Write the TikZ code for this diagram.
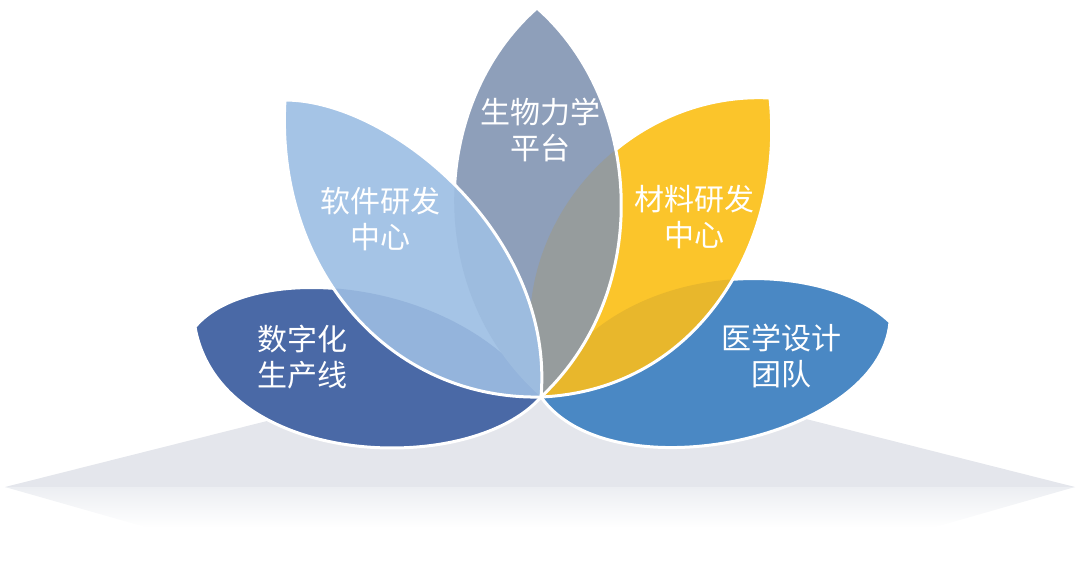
\documentclass[tikz,border=0pt]{standalone}
\usepackage{fontspec}
\newfontfamily\cjk{Noto Sans CJK SC}
\definecolor{darkc}{HTML}{4A69A6}
\definecolor{rbluec}{HTML}{4A88C4}
\definecolor{yellowc}{HTML}{FBC52B}
\definecolor{yellowover}{HTML}{E8B72C}
\definecolor{centerc}{HTML}{8E9FBA}
\definecolor{centerover}{HTML}{969C9D}
\definecolor{lbluec}{HTML}{A5C4E6}
\definecolor{lbover}{HTML}{94B4DC}
\definecolor{lbovercenter}{HTML}{9DBCDF}
\definecolor{shadowc}{HTML}{E4E6EC}
\definecolor{shadowlow}{HTML}{ECEEF2}
\newcommand\PetalDark[1]{\path[#1] (541,397) .. controls (460,275) and (250,260) .. (195,327) .. controls (220,468) and (470,478) .. (541,397) -- cycle;}
\newcommand\PetalRBlue[1]{\path[#1] (541,397) .. controls (610,255) and (820,255) .. (890,322) .. controls (880,440) and (610,495) .. (541,397) -- cycle;}
\newcommand\PetalYellow[1]{\path[#1] (541,397) .. controls (490,240) and (620,90) .. (770,98) .. controls (785,240) and (700,390) .. (541,397) -- cycle;}
\newcommand\PetalCenter[1]{\path[#1] (541,397) .. controls (420,290) and (432,100) .. (537,8) .. controls (642,100) and (655,290) .. (541,397) -- cycle;}
\newcommand\PetalLBlue[1]{\path[#1] (541,397) .. controls (390,400) and (275,270) .. (285,100) .. controls (390,100) and (555,235) .. (541,397) -- cycle;}
\tikzset{
  outline/.style={draw=white, line width=3pt, line join=round},
  lbl/.style={text=white, font=\cjk\fontsize{30}{36}\selectfont, align=center, inner sep=0pt}
}
\begin{document}
\begin{tikzpicture}[x=1pt,y=-1pt]
\useasboundingbox (0,0) rectangle (1080,579);
% ground shadow
\fill[shadowc] (5,487) -- (541,352) -- (1075,487) -- cycle;
\begin{scope}
  \clip (5,487) -- (1075,487) -- (541,640) -- cycle;
  \shade[top color=shadowlow, bottom color=white] (0,487) rectangle (1080,528);
\end{scope}
% lower petals
\PetalDark{fill=darkc}
\PetalDark{outline}
\PetalRBlue{fill=rbluec}
\PetalRBlue{outline}
% yellow
\PetalYellow{fill=yellowc}
\begin{scope}
  \PetalYellow{clip}
  \PetalRBlue{fill=yellowover}
\end{scope}
\PetalYellow{outline}
% center
\PetalCenter{fill=centerc}
\begin{scope}
  \PetalCenter{clip}
  \PetalYellow{fill=centerover}
\end{scope}
\PetalCenter{outline}
% light blue
\PetalLBlue{fill=lbluec}
\begin{scope}
  \PetalLBlue{clip}
  \PetalDark{fill=lbover}
  \PetalCenter{fill=lbovercenter}
\end{scope}
\PetalLBlue{outline}
% labels
\node[lbl] (t1) at (302,357) {数字化\\生产线};
\node[lbl] (t2) at (380,219) {软件研发\\中心};
\node[lbl] (t3) at (540,130) {生物力学\\平台};
\node[lbl] (t4) at (694,217) {材料研发\\中心};
\node[lbl] (t5) at (781,356) {医学设计\\团队};
\end{tikzpicture}
\end{document}
